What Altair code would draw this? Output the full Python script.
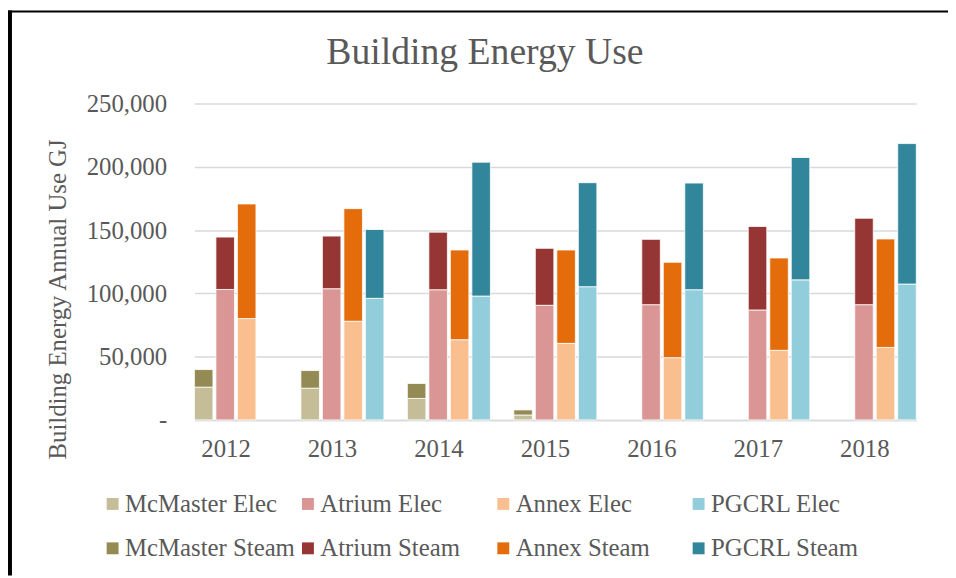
import altair as alt
import pandas as pd

years = ["2012", "2013", "2014", "2015", "2016", "2017", "2018"]
buildings = ["McMaster", "Atrium", "Annex", "PGCRL"]

mcmaster_elec = [25900, 25100, 17000, 3900, 0, 0, 0]
mcmaster_steam = [13900, 13900, 11800, 4000, 0, 0, 0]
atrium_elec = [103100, 103700, 102900, 90600, 91100, 86900, 91100]
atrium_steam = [41400, 41600, 45500, 45000, 51600, 66000, 68300]
annex_elec = [80100, 78000, 63400, 60500, 49200, 55000, 57300]
annex_steam = [90600, 89000, 70900, 73800, 75400, 73000, 85700]
pgcrl_elec = [0, 96100, 97900, 105300, 102900, 110700, 107400]
pgcrl_steam = [0, 54400, 105800, 82200, 84300, 96700, 111000]

series_order = [f"{b} Elec" for b in buildings] + [f"{b} Steam" for b in buildings]
colors = ["#C4BD97", "#DA9694", "#FABF8F", "#92CDDC",
          "#948A54", "#963634", "#E46C0A", "#31869B"]

rows = []
for b, elec, steam in [("McMaster", mcmaster_elec, mcmaster_steam),
                       ("Atrium", atrium_elec, atrium_steam),
                       ("Annex", annex_elec, annex_steam),
                       ("PGCRL", pgcrl_elec, pgcrl_steam)]:
    for yr, e, s in zip(years, elec, steam):
        if e > 0:
            rows.append(dict(year=yr, building=b, series=f"{b} Elec", lo=0, hi=e))
        if s > 0:
            rows.append(dict(year=yr, building=b, series=f"{b} Steam", lo=e, hi=e + s))
df = pd.DataFrame(rows)

FONT = "Liberation Serif"
TXT = "#595959"
GRID = "#D9D9D9"

bars = alt.Chart(df).mark_bar(stroke="white", strokeWidth=0.8).encode(
    x=alt.X("year:N", sort=years,
            scale=alt.Scale(paddingInner=0.22, paddingOuter=0),
            axis=alt.Axis(title=None, labelAngle=0, labelFontSize=25, labelFont=FONT,
                          labelColor=TXT, labelPadding=17, labelOffset=-10, ticks=False,
                          domainColor=GRID, domainWidth=1.5, grid=False)),
    xOffset=alt.XOffset("building:N", sort=buildings,
                        scale=alt.Scale(domain=buildings, paddingInner=0.138, paddingOuter=0)),
    y=alt.Y("lo:Q", scale=alt.Scale(domain=[0, 250000]),
            axis=alt.Axis(title="Building Energy Annual Use GJ",
                          values=[0, 50000, 100000, 150000, 200000, 250000],
                          labelExpr="datum.value === 0 ? '-\u00a0\u00a0' : format(datum.value, ',')",
                          labelFont=FONT, labelFontSize=25, labelColor=TXT, labelPadding=28,
                          ticks=False, domain=False, gridColor=GRID, gridWidth=1.5,
                          titleFont=FONT, titleFontSize=25, titleColor=TXT,
                          titleFontWeight="normal", titleAngle=270, titleX=-125, titleY=197,
                          titleAlign="center", titleBaseline="bottom")),
    y2="hi:Q",
    color=alt.Color("series:N",
                    scale=alt.Scale(domain=series_order, range=colors),
                    legend=alt.Legend(title=None, orient="none", legendX=-95, legendY=391,
                                      columns=4, direction="horizontal", gridAlign="all",
                                      symbolType="square", symbolSize=144, symbolStrokeWidth=0,
                                      labelFont=FONT, labelFontSize=25, labelColor=TXT,
                                      labelLimit=300, labelOffset=0, columnPadding=0,
                                      rowPadding=19)),
)

frame_df = pd.DataFrame({"k": [0]})
left_border = alt.Chart(frame_df).mark_rule(color="black", strokeWidth=4).encode(
    x=alt.value(-186), y=alt.value(-94), y2=alt.value(476))
top_border = alt.Chart(frame_df).mark_rule(color="black", strokeWidth=2).encode(
    x=alt.value(-188), x2=alt.value(760), y=alt.value(-93))

chart = alt.layer(bars, left_border, top_border).properties(
    width=728, height=319,
    title=alt.TitleParams("Building Energy Use", font=FONT, fontSize=38, color=TXT,
                          fontWeight="normal", anchor="middle", frame="group",
                          baseline="alphabetic", dx=-71, offset=-94),
    autosize=alt.AutoSizeParams(type="none"),
    padding={"left": 188, "top": 94, "right": 32, "bottom": 157},
).configure_view(strokeWidth=0)

chart.save("out.html", embed_options={"renderer": "svg", "actions": False})
